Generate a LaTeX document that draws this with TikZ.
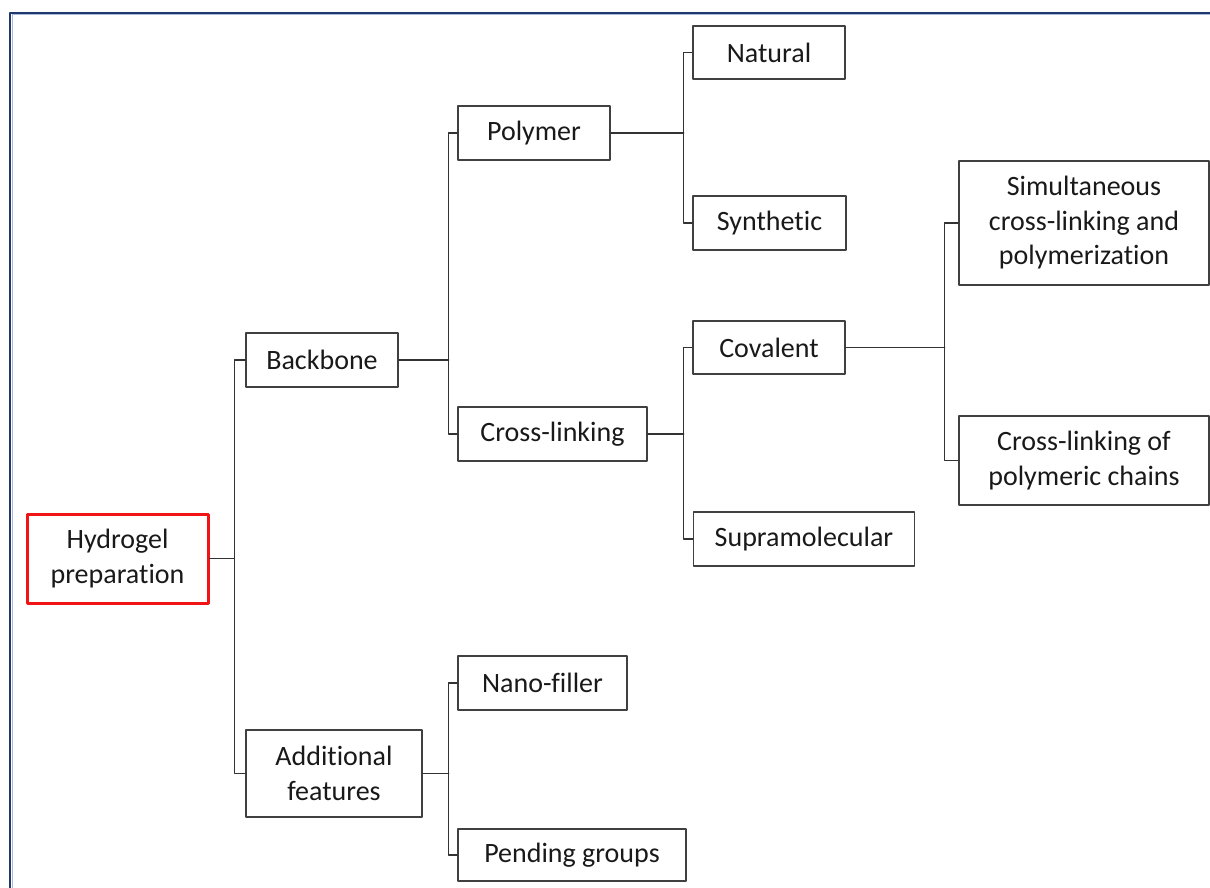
\documentclass[tikz,border=0pt]{standalone}
\usepackage{fontspec}
\setmainfont{Carlito}[Ligatures=NoCommon]
\definecolor{framedark}{RGB}{31,56,110}
\definecolor{framelight}{RGB}{170,185,215}
\definecolor{boxred}{RGB}{240,20,20}
\begin{document}
\begin{tikzpicture}[x=1pt,y=-1pt,line join=round,line cap=round,
  font=\fontsize{28}{34.5}\selectfont,
  box/.style={draw=black!75,line width=1.5pt,inner sep=0pt,align=center,text=black!90},
  mainbox/.style={box,draw=boxred,line width=3pt},
  link/.style={draw=black!80,line width=1.3pt}]
\useasboundingbox (0,0) rectangle (1210,888);
\draw[framelight,line width=1pt,line cap=butt] (12,888)--(12,15)--(1210,15);
\draw[framedark,line width=2.2pt,line cap=butt] (9.8,888)--(9.8,12.8)--(1210,12.8);
\node[mainbox,minimum width=181,minimum height=89] (hydro) at (117.5,558.5) {Hydrogel\\preparation};
\node[box,minimum width=152,minimum height=54] (backbone) at (322,360) {Backbone};
\node[box,minimum width=176,minimum height=87] (addfeat) at (334,773.5) {Additional\\features};
\node[box,minimum width=152,minimum height=54] (polymer) at (534,133) {Polymer};
\node[box,minimum width=189,minimum height=54] (crosslink) at (552.5,434) {Cross-linking};
\node[box,minimum width=169,minimum height=54] (nanofill) at (542.5,683) {Nano-filler};
\node[box,minimum width=228,minimum height=52] (pending) at (572,855) {Pending groups};
\node[box,minimum width=152,minimum height=53] (natural) at (769,52.5) {Natural};
\node[box,minimum width=153,minimum height=54] (synthetic) at (769.5,223) {Synthetic};
\node[box,minimum width=152,minimum height=53] (covalent) at (769,347.5) {Covalent};
\node[box,minimum width=221,minimum height=54] (supramol) at (804,539) {Supramolecular};
\node[box,minimum width=250,minimum height=124] (simult) at (1084,223) {Simultaneous\\cross-linking and\\polymerization};
\node[box,minimum width=250,minimum height=89] (clpoly) at (1084,460.5) {Cross-linking of\\polymeric chains};
\draw[link] (hydro.east) -- ++(25,0) coordinate (hbus);
\draw[link] (hbus) |- (backbone.west);
\draw[link] (hbus) |- (addfeat.west);
\draw[link] (backbone.east) -- ++(50,0) coordinate (bbus);
\draw[link] (bbus) |- (polymer.west);
\draw[link] (bbus) |- (crosslink.west);
\draw[link] (addfeat.east) -- ++(26,0) coordinate (abus);
\draw[link] (abus) |- (nanofill.west);
\draw[link] (abus) |- (pending.west);
\draw[link] (polymer.east) -- ++(73,0) coordinate (pbus);
\draw[link] (pbus) |- (natural.west);
\draw[link] (pbus) |- (synthetic.west);
\draw[link] (crosslink.east) -- ++(36,0) coordinate (cbus);
\draw[link] (cbus) |- (covalent.west);
\draw[link] (cbus) |- (supramol.west);
\draw[link] (covalent.east) -- ++(99,0) coordinate (vbus);
\draw[link] (vbus) |- (simult.west);
\draw[link] (vbus) |- (clpoly.west);
\end{tikzpicture}
\end{document}
